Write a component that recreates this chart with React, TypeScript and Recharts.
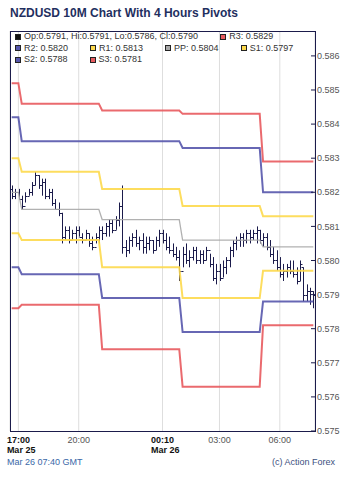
import { ComposedChart, Bar, Line, XAxis, YAxis, CartesianGrid } from 'recharts'

// 10 minute bars, 16:40 Mar 25 .. 07:40 Mar 26 (GMT)
const times = [
  '16:40', '16:50',
  '17:00', '17:10', '17:20', '17:30', '17:40', '17:50',
  '18:00', '18:10', '18:20', '18:30', '18:40', '18:50',
  '19:00', '19:10', '19:20', '19:30', '19:40', '19:50',
  '20:00', '20:10', '20:20', '20:30', '20:40', '20:50',
  '21:00', '21:10', '21:20', '21:30', '21:40', '21:50',
  '22:00', '22:10', '22:20', '22:30', '22:40', '22:50',
  '23:00', '23:10', '23:20', '23:30', '23:40', '23:50',
  '00:00', '00:10', '00:20', '00:30', '00:40', '00:50',
  '01:00', '01:10', '01:20', '01:30', '01:40', '01:50',
  '02:00', '02:10', '02:20', '02:30', '02:40', '02:50',
  '03:00', '03:10', '03:20', '03:30', '03:40', '03:50',
  '04:00', '04:10', '04:20', '04:30', '04:40', '04:50',
  '05:00', '05:10', '05:20', '05:30', '05:40', '05:50',
  '06:00', '06:10', '06:20', '06:30', '06:40', '06:50',
  '07:00', '07:10', '07:20', '07:30', '07:40',
]

const opens = [
  0.5821, 0.5819, 0.5820, 0.5818, 0.5816, 0.5819, 0.5820, 0.5822, 0.5825, 0.5822,
  0.5823, 0.5819, 0.5820, 0.5817, 0.5815, 0.5814, 0.5807, 0.5809, 0.5806, 0.5808,
  0.5809, 0.5807, 0.5806, 0.5808, 0.5805, 0.5804, 0.5807, 0.5809, 0.5808, 0.5810,
  0.5811, 0.5809, 0.5812, 0.5816, 0.5804, 0.5803, 0.5806, 0.5807, 0.5805, 0.5806,
  0.5804, 0.5805, 0.5806, 0.5803, 0.5806, 0.5808, 0.5806, 0.5804, 0.5803, 0.5802,
  0.5801, 0.5797, 0.5802, 0.5800, 0.5801, 0.5803, 0.5800, 0.5802, 0.5800, 0.5803,
  0.5799, 0.5795, 0.5797, 0.5795, 0.5798, 0.5800, 0.5803, 0.5805, 0.5806, 0.5807,
  0.5806, 0.5808, 0.5807, 0.5808, 0.5809, 0.5806, 0.5807, 0.5804, 0.5802, 0.5800,
  0.5798, 0.5796, 0.5797, 0.5798, 0.5797, 0.5796, 0.5794, 0.5798, 0.5790, 0.5791,
  0.5791,
]
const highs = [
  0.5822, 0.5821, 0.5821, 0.5819, 0.5820, 0.5821, 0.5823, 0.5826, 0.5825, 0.5824,
  0.5824, 0.5821, 0.5821, 0.5818, 0.5817, 0.5814, 0.5810, 0.5810, 0.5809, 0.5810,
  0.5810, 0.5808, 0.5809, 0.5808, 0.5807, 0.5808, 0.5810, 0.5810, 0.5811, 0.5812,
  0.5812, 0.5813, 0.5817, 0.5822, 0.5806, 0.5807, 0.5808, 0.5809, 0.5807, 0.5808,
  0.5807, 0.5807, 0.5806, 0.5807, 0.5809, 0.5809, 0.5808, 0.5807, 0.5805, 0.5804,
  0.5803, 0.5804, 0.5805, 0.5803, 0.5804, 0.5804, 0.5803, 0.5803, 0.5804, 0.5802,
  0.5801, 0.5799, 0.5799, 0.5800, 0.5801, 0.5804, 0.5806, 0.5807, 0.5808, 0.5808,
  0.5809, 0.5809, 0.5809, 0.5810, 0.5809, 0.5808, 0.5808, 0.5806, 0.5804, 0.5803,
  0.5801, 0.5799, 0.5799, 0.5800, 0.5800, 0.5798, 0.5800, 0.5798, 0.5793, 0.5792,
  0.5791,
]
const lows = [
  0.5818, 0.5818, 0.5818, 0.5815, 0.5817, 0.5819, 0.5819, 0.5822, 0.5821, 0.5819,
  0.5818, 0.5818, 0.5816, 0.5815, 0.5813, 0.5805, 0.5806, 0.5805, 0.5806, 0.5805,
  0.5807, 0.5805, 0.5806, 0.5804, 0.5803, 0.5805, 0.5805, 0.5806, 0.5807, 0.5807,
  0.5808, 0.5809, 0.5810, 0.5802, 0.5801, 0.5802, 0.5804, 0.5804, 0.5803, 0.5802,
  0.5802, 0.5803, 0.5802, 0.5803, 0.5804, 0.5805, 0.5803, 0.5802, 0.5801, 0.5800,
  0.5794, 0.5798, 0.5799, 0.5798, 0.5800, 0.5799, 0.5799, 0.5799, 0.5800, 0.5798,
  0.5794, 0.5793, 0.5794, 0.5795, 0.5796, 0.5798, 0.5801, 0.5803, 0.5804, 0.5804,
  0.5805, 0.5805, 0.5806, 0.5805, 0.5805, 0.5804, 0.5803, 0.5801, 0.5799, 0.5797,
  0.5795, 0.5794, 0.5795, 0.5796, 0.5795, 0.5793, 0.5794, 0.5788, 0.5788, 0.5787,
  0.5786,
]
const closes = [
  0.5819, 0.5820, 0.5818, 0.5816, 0.5819, 0.5820, 0.5822, 0.5825, 0.5822, 0.5823,
  0.5819, 0.5820, 0.5817, 0.5815, 0.5814, 0.5807, 0.5809, 0.5806, 0.5808, 0.5809,
  0.5807, 0.5806, 0.5808, 0.5805, 0.5804, 0.5807, 0.5809, 0.5808, 0.5810, 0.5811,
  0.5809, 0.5812, 0.5816, 0.5804, 0.5803, 0.5806, 0.5807, 0.5805, 0.5806, 0.5804,
  0.5805, 0.5806, 0.5803, 0.5806, 0.5808, 0.5806, 0.5804, 0.5803, 0.5802, 0.5801,
  0.5797, 0.5802, 0.5800, 0.5801, 0.5803, 0.5800, 0.5802, 0.5800, 0.5803, 0.5799,
  0.5795, 0.5797, 0.5795, 0.5798, 0.5800, 0.5803, 0.5805, 0.5806, 0.5807, 0.5806,
  0.5808, 0.5807, 0.5808, 0.5809, 0.5806, 0.5807, 0.5804, 0.5802, 0.5800, 0.5798,
  0.5796, 0.5797, 0.5798, 0.5797, 0.5796, 0.5794, 0.5799, 0.5790, 0.5791, 0.5791,
  0.5790,
]

// 4 hour pivot periods: first bar index of each period
const pivotStarts = [0, 3, 27, 51, 75]
const r3 = [0.5852, 0.5846, 0.5844, 0.5843, 0.5829]
const r2 = [0.5842, 0.5835, 0.5835, 0.5833, 0.582]
const r1 = [0.583, 0.5826, 0.5821, 0.5816, 0.5813]
const pp = [0.582, 0.5815, 0.5812, 0.5806, 0.5804]
const s1 = [0.5808, 0.5806, 0.5798, 0.5789, 0.5797]
const s2 = [0.5798, 0.5796, 0.5789, 0.5779, 0.5788]
const s3 = [0.5786, 0.5787, 0.5774, 0.5763, 0.5781]

const xTicks = ['17:00', '20:00', '00:10', '03:00', '06:00']
const dayLabels: Record<string, string> = { '17:00': 'Mar 25', '00:10': 'Mar 26' }
const yTicks = [0.575, 0.576, 0.577, 0.578, 0.579, 0.58, 0.581, 0.582, 0.583, 0.584, 0.585, 0.586]

const RED = '#e85a5e'
const BLUE = '#5656ac'
const YELLOW = '#fdd94c'
const GRAY = '#a8a8a8'
const INK = '#1b1b4b'
const FONT = '"Liberation Sans", Arial, sans-serif'

const segOf = (i: number) => {
  let s = 0
  pivotStarts.forEach((start, k) => {
    if (i >= start) s = k
  })
  return s
}

const data = times.map((t, i) => {
  const s = segOf(i)
  return {
    t,
    o: opens[i],
    h: highs[i],
    l: lows[i],
    c: closes[i],
    range: [lows[i], highs[i]],
    r3: r3[s],
    r2: r2[s],
    r1: r1[s],
    pp: pp[s],
    s1: s1[s],
    s2: s2[s],
    s3: s3[s],
  }
})

const OhlcBar = (props: any) => {
  const { x, y, width, height, payload } = props
  if (x == null || y == null) return null
  const top = Math.min(y, y + height)
  const bottom = Math.max(y, y + height)
  const cx = Math.round(x + width / 2) + 0.5
  const span = payload.h - payload.l
  const yO = span ? top + ((payload.h - payload.o) / span) * (bottom - top) : top
  const yC = span ? top + ((payload.h - payload.c) / span) * (bottom - top) : top
  return (
    <g stroke={INK} strokeWidth={1}>
      <line x1={cx} x2={cx} y1={top} y2={bottom} />
      <line x1={cx - 2} x2={cx} y1={Math.round(yO) + 0.5} y2={Math.round(yO) + 0.5} />
      <line x1={cx} x2={cx + 2} y1={Math.round(yC) + 0.5} y2={Math.round(yC) + 0.5} />
    </g>
  )
}

const TimeTick = (props: any) => {
  const { x, y, payload } = props
  const day = dayLabels[payload.value]
  if (day) {
    return (
      <text x={x - 11.5} y={y} fontFamily={FONT} fontSize={9} fontWeight="bold" fill="#111">
        <tspan x={x - 11.5} dy={11.5}>{payload.value}</tspan>
        <tspan x={x - 11.5} dy={10.5}>{day}</tspan>
      </text>
    )
  }
  return (
    <text x={x} y={y + 11.5} textAnchor="middle" fontFamily={FONT} fontSize={9} fill="#555">
      {payload.value}
    </text>
  )
}

const PriceTick = (props: any) => {
  const { x, y, payload } = props
  return (
    <g>
      <line x1={x - 6} x2={x - 2} y1={y} y2={y} stroke={INK} strokeWidth={1} />
      <text x={x} y={y} dy="0.35em" fontFamily={FONT} fontSize={9} fill="#555">
        {payload.value.toFixed(3)}
      </text>
    </g>
  )
}

const last = data[data.length - 1]
const lastSeg = pivotStarts.length - 1
const legendItems = [
  {
    color: '#111',
    label: `Op:${last.o.toFixed(4)}, Hi:${last.h.toFixed(4)}, Lo:${last.l.toFixed(4)}, Cl:${last.c.toFixed(4)}`,
  },
  { color: RED, label: `R3: ${r3[lastSeg].toFixed(4)}` },
  { color: BLUE, label: `R2: ${r2[lastSeg].toFixed(4)}` },
  { color: YELLOW, label: `R1: ${r1[lastSeg].toFixed(4)}` },
  { color: GRAY, label: `PP: ${pp[lastSeg].toFixed(4)}` },
  { color: YELLOW, label: `S1: ${s1[lastSeg].toFixed(4)}` },
  { color: BLUE, label: `S2: ${s2[lastSeg].toFixed(4)}` },
  { color: RED, label: `S3: ${s3[lastSeg].toFixed(4)}` },
]

const pivotLines = [
  { key: 'r3', color: RED, w: 2 },
  { key: 'r2', color: BLUE, w: 2 },
  { key: 'r1', color: YELLOW, w: 2 },
  { key: 'pp', color: GRAY, w: 1.3 },
  { key: 's1', color: YELLOW, w: 2 },
  { key: 's2', color: BLUE, w: 2 },
  { key: 's3', color: RED, w: 2 },
]

export default function App() {
  return (
    <div
      style={{
        position: 'absolute',
        left: 0,
        top: 0,
        width: 350,
        height: 481,
        background: '#fff',
        fontFamily: FONT,
      }}
    >
      <div
        style={{
          position: 'absolute',
          left: 10,
          top: 6,
          fontSize: 12,
          fontWeight: 'bold',
          color: '#1f2f60',
          whiteSpace: 'nowrap',
        }}
      >
        NZDUSD 10M Chart With 4 Hours Pivots
      </div>

      <ComposedChart
        width={350}
        height={481}
        data={data}
        margin={{ top: 31, right: 0, bottom: 30, left: 10 }}
      >
        <CartesianGrid vertical horizontal={false} stroke="#dedede" />
        <XAxis
          dataKey="t"
          ticks={xTicks}
          interval={0}
          height={20}
          tickSize={0}
          tickMargin={0}
          axisLine={false}
          tick={<TimeTick />}
        />
        <YAxis
          orientation="right"
          width={35}
          domain={[0.575, 0.58673]}
          allowDataOverflow
          ticks={yTicks}
          tickSize={0}
          tickMargin={2}
          axisLine={false}
          tick={<PriceTick />}
        />
        {pivotLines.map((p) => (
          <Line
            key={p.key}
            dataKey={p.key}
            type="linear"
            stroke={p.color}
            strokeWidth={p.w}
            strokeOpacity={0.9}
            dot={false}
            activeDot={false}
            isAnimationActive={false}
          />
        ))}
        <Bar dataKey="range" shape={<OhlcBar />} isAnimationActive={false} />
      </ComposedChart>

      <div
        style={{
          position: 'absolute',
          left: 10,
          top: 31,
          width: 306,
          height: 401,
          boxSizing: 'border-box',
          border: `1px solid ${INK}`,
          pointerEvents: 'none',
        }}
      />

      <div
        style={{
          position: 'absolute',
          left: 15,
          top: 31,
          width: 320,
          display: 'flex',
          flexWrap: 'wrap',
          fontSize: 9,
          lineHeight: '11.5px',
          color: '#333',
        }}
      >
        {legendItems.map((it) => (
          <div
            key={it.label}
            style={{ display: 'flex', alignItems: 'center', marginRight: 22, whiteSpace: 'nowrap' }}
          >
            <span
              style={{
                display: 'inline-block',
                width: 6,
                height: 6,
                boxSizing: 'border-box',
                border: '1px solid #222',
                background: it.color,
                marginRight: 3,
              }}
            />
            <span>{it.label}</span>
          </div>
        ))}
      </div>

      <div
        style={{
          position: 'absolute',
          left: 7,
          top: 457,
          fontSize: 9,
          color: '#3a68a8',
          whiteSpace: 'nowrap',
        }}
      >
        Mar 26 07:40 GMT
      </div>
      <div
        style={{
          position: 'absolute',
          right: 15,
          top: 457,
          fontSize: 9,
          color: '#3d5080',
          whiteSpace: 'nowrap',
        }}
      >
        (c) Action Forex
      </div>
    </div>
  )
}
